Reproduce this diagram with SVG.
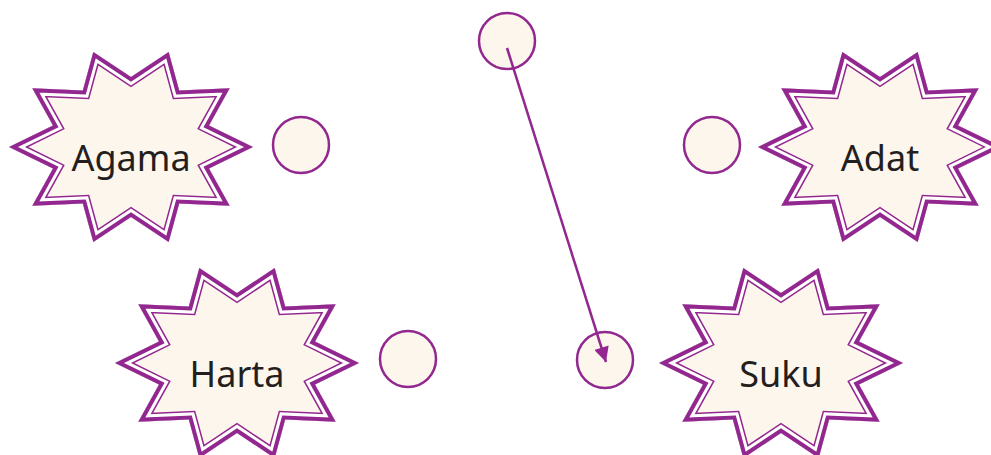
<svg xmlns="http://www.w3.org/2000/svg" xmlns:xlink="http://www.w3.org/1999/xlink" width="991" height="455" viewBox="0 0 991 455">
<style>
.lbl{font-family:"Noto Sans","Open Sans","Liberation Sans",sans-serif;font-size:36px;fill:#231f20;text-anchor:middle}
.dot{fill:#fdf6ec;stroke:#92278f;stroke-width:2.5}
.conn{stroke:#92278f;stroke-width:2.5;fill:none}
</style>
<defs>
<path id="starP" d="M122,0 L78,21.6 L98.7,58.8 L48.2,56.6 L37.7,95.1 L0,70 L-37.7,95.1 L-48.2,56.6 L-98.7,58.8 L-78,21.6 L-122,0 L-78,-21.6 L-98.7,-58.8 L-48.2,-56.6 L-37.7,-95.1 L0,-70 L37.7,-95.1 L48.2,-56.6 L98.7,-58.8 L78,-21.6 Z"/>
<clipPath id="starClip"><use xlink:href="#starP"/></clipPath>
<g id="star">
<g clip-path="url(#starClip)" stroke-linejoin="miter" stroke-miterlimit="20">
<use xlink:href="#starP" fill="#fdf6ec" stroke="#92278f" stroke-width="17"/>
<use xlink:href="#starP" fill="none" stroke="#ffffff" stroke-width="14"/>
<use xlink:href="#starP" fill="none" stroke="#92278f" stroke-width="8"/>
</g>
</g>
<marker id="arr" viewBox="0 0 10 10" refX="10" refY="5" markerWidth="7" markerHeight="6" markerUnits="strokeWidth" orient="auto">
<path d="M0,0 L10,5 L0,10 Z" fill="#92278f"/>
</marker>
</defs>
<g id="node-agama">
<use xlink:href="#star" transform="translate(131,147)"/>
<text class="lbl" x="131" y="171">Agama</text>
</g>
<g id="node-harta">
<use xlink:href="#star" transform="translate(237,363)"/>
<text class="lbl" x="237" y="387">Harta</text>
</g>
<g id="node-adat">
<use xlink:href="#star" transform="translate(880,147)"/>
<text class="lbl" x="880" y="171">Adat</text>
</g>
<g id="node-suku">
<use xlink:href="#star" transform="translate(781,363)"/>
<text class="lbl" x="781" y="387">Suku</text>
</g>
<g id="dot-agama"><circle class="dot" cx="301" cy="145" r="28"/></g>
<g id="dot-adat"><circle class="dot" cx="712" cy="145" r="28"/></g>
<g id="dot-harta"><circle class="dot" cx="408" cy="359" r="28"/></g>
<g id="dot-top"><circle class="dot" cx="507" cy="41" r="28"/></g>
<g id="dot-suku"><circle class="dot" cx="605" cy="360" r="28"/></g>
<g id="connectors">
<line class="conn" x1="507" y1="48" x2="606" y2="362" marker-end="url(#arr)"/>
</g>
</svg>
